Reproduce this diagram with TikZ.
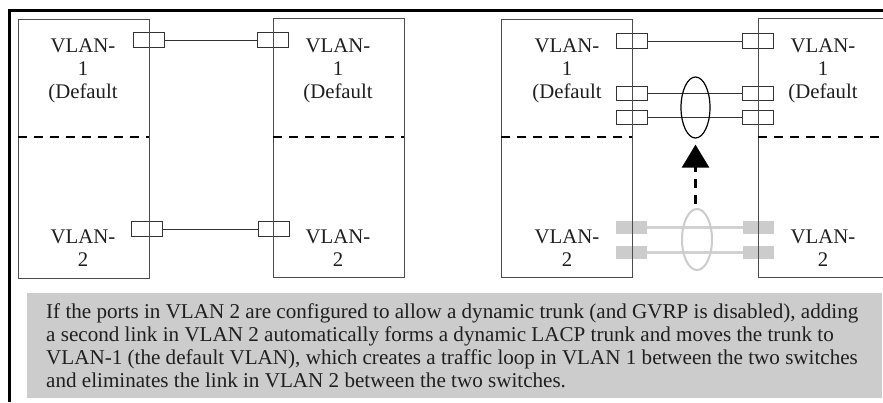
\documentclass[tikz,border=0pt]{standalone}
\usepackage{fontspec}
\setmainfont{Liberation Serif}
\usetikzlibrary{shapes.geometric,arrows.meta}
\tikzset{
  swbox/.style={draw=black!70, line width=1pt, inner sep=0pt, minimum width=131pt},
  port/.style={draw=black!80, line width=0.9pt, minimum width=31pt, minimum height=14.5pt, inner sep=0pt},
  gport/.style={fill=black!20, draw=none, minimum width=31pt, minimum height=13pt, inner sep=0pt},
  link/.style={draw=black!80, line width=0.9pt},
  glink/.style={draw=black!18, line width=2.6pt},
  vsep/.style={draw=black, line width=2.6pt, dash pattern=on 9pt off 7pt},
  lbl/.style={font=\fontsize{20.8}{23}\selectfont, text=black!88, inner sep=0pt, anchor=base},
  capt/.style={font=\fontsize{21.1}{23}\selectfont, text=black!88, inner sep=0pt, anchor=base west},
  trunk/.style={draw, ellipse, inner sep=0pt, minimum width=29pt, minimum height=61pt},
}
\begin{document}
\begin{tikzpicture}[x=1pt,y=-1pt]
\useasboundingbox (0,0) rectangle (883,402);
\clip (0,0) rectangle (883,402);
\fill[white] (0,0) rectangle (883,402);
% outer frame
\draw[line width=3pt, line join=miter] (9.5,402) -- (9.5,10.5) -- (883,10.5);
% caption box
\fill[black!20] (27,293) rectangle (882,398);
\node[capt] (c1) at (46,318) {If the ports in VLAN 2 are configured to allow a dynamic trunk (and GVRP is disabled), adding};
\node[capt] (c2) at (46,341) {a second link in VLAN 2 automatically forms a dynamic LACP trunk and moves the trunk to};
\node[capt] (c3) at (46,364) {VLAN-1 (the default VLAN), which creates a traffic loop in VLAN 1 between the two switches};
\node[capt] (c4) at (46,387) {and eliminates the link in VLAN 2 between the two switches.};

% ---------- left pair ----------
\node[port] (p1a) at (148.5,40) {};
\node[port] (p2a) at (273,40) {};
\draw[link] (p1a.east) -- (p2a.west);
\node[port] (p1b) at (147,229) {};
\node[port] (p2b) at (273.5,229) {};
\draw[link] (p1b.east) -- (p2b.west);

% ---------- right pair ----------
\node[port] (p3a) at (631.5,41) {};
\node[port] (p4a) at (758,41) {};
\draw[link] (p3a.east) -- (p4a.west);
\node[port] (p3b) at (631.5,93.5) {};
\node[port] (p4b) at (758,93.5) {};
\draw[link] (p3b.east) -- (p4b.west);
\node[port] (p3c) at (631.5,117.5) {};
\node[port] (p4c) at (758,117.5) {};
\draw[link] (p3c.east) -- (p4c.west);
\node[trunk, line width=1.2pt] (e1) at (695.5,107.5) {};

% grey (former) VLAN-2 trunk
\node[gport] (g3a) at (631.5,227.5) {};
\node[gport] (g4a) at (758.5,227.5) {};
\draw[glink] (g3a.east) -- (g4a.west);
\node[gport] (g3b) at (631.5,252.5) {};
\node[gport] (g4b) at (758.5,252.5) {};
\draw[glink] (g3b.east) -- (g4b.west);
\node[trunk, draw=black!20, line width=2pt, minimum width=30pt] (e2) at (697,239.5) {};

% arrow from old trunk to new trunk
\draw[line width=2.6pt, dash pattern=on 9pt off 7pt, -{Triangle[width=27pt,length=23pt]},
      shorten <=4pt, shorten >=6pt] (e2.north -| e1.south) -- (e1.south);

% ---------- switch boxes ----------
\node[swbox, minimum height=259pt] (s1) at (83.5,148.5) {};
\node[swbox, minimum height=259pt] (s2) at (338.5,147.5) {};
\node[swbox, minimum height=258pt] (s3) at (566.5,148) {};
\node[swbox, minimum width=142pt, minimum height=259pt] (s4) at (829,147.5) {};

% VLAN separators
\draw[vsep] (18,137) -- (149,137);
\draw[vsep] (273,137) -- (404,137);
\draw[vsep] (501,137) -- (632,137);
\draw[vsep] (758,137) -- (890,137);

% labels
\foreach \nm/\xx in {a/83, b/338, c/567, d/823}{
  \node[lbl] (v1\nm) at (\xx,52) {VLAN-};
  \node[lbl] (n1\nm) at (\xx,75) {1};
  \node[lbl] (d1\nm) at (\xx,98) {(Default};
  \node[lbl] (v2\nm) at (\xx,243) {VLAN-};
  \node[lbl] (n2\nm) at (\xx,266) {2};
}
\end{tikzpicture}
\end{document}
